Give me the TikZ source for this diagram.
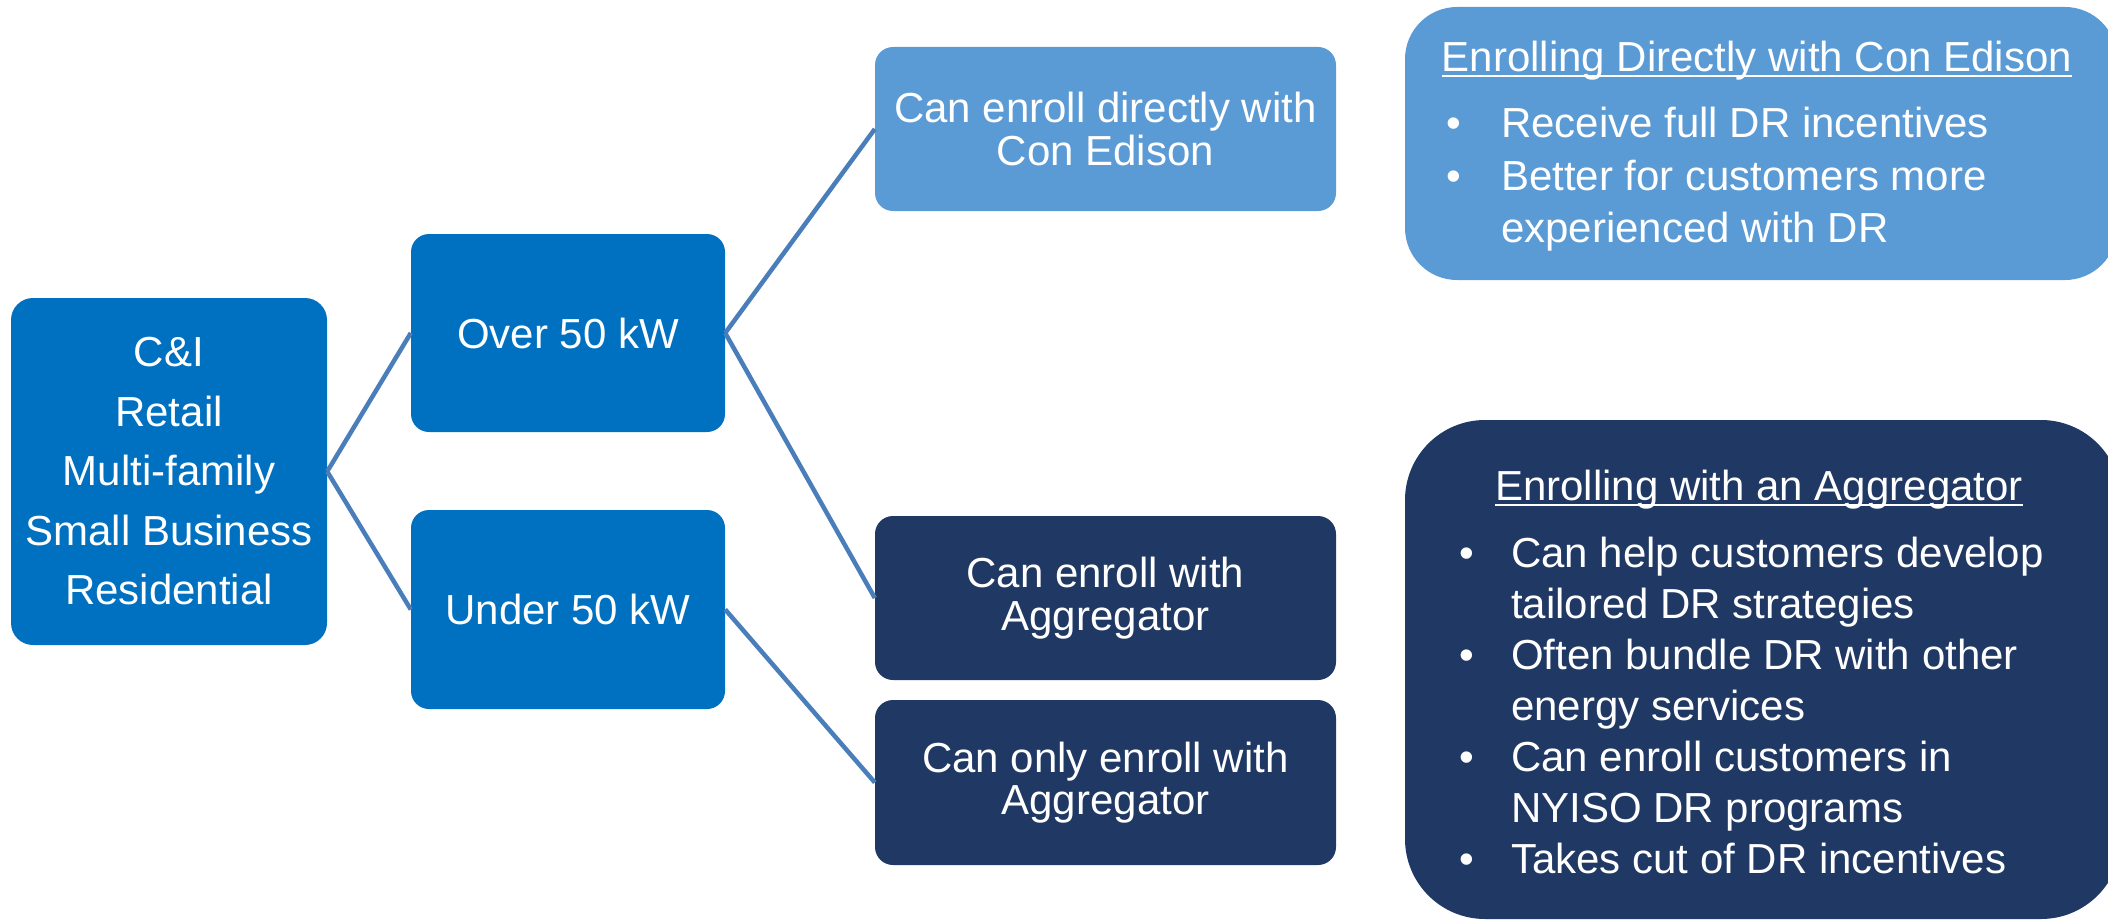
\documentclass[tikz,border=0pt]{standalone}
\usepackage{fontspec}
\setmainfont{Liberation Sans}
\definecolor{midblue}{HTML}{0070C0}
\definecolor{lightblue}{HTML}{5B9BD5}
\definecolor{navy}{HTML}{203864}
\definecolor{linkblue}{HTML}{4A7EBB}
\tikzset{
  box/.style={rounded corners=18pt, inner sep=0pt, text=white, align=center},
  f42/.style={font=\fontsize{42}{42.5}\selectfont},
  txt/.style={inner sep=0pt, text=white, font=\fontsize{42}{50}\selectfont},
  link/.style={draw=linkblue, line width=4.5pt},
  uline/.style={draw=white, line width=2pt},
}
\begin{document}
\begin{tikzpicture}[x=1pt,y=-1pt]
\useasboundingbox (0,0) rectangle (2108,920);
% left column
\node[box, fill=midblue, rounded corners=22pt, minimum width=316pt, minimum height=347pt,
  font=\fontsize{42}{59.5}\selectfont] (seg) at (169,471.5)
  {C\&I\\Retail\\Multi-family\\Small Business\\Residential};
\node[box, f42, fill=midblue, minimum width=314pt, minimum height=198pt] (over) at (568,333) {Over 50 kW};
\node[box, f42, fill=midblue, minimum width=314pt, minimum height=199pt] (under) at (568,609.5) {Under 50 kW};
% middle column
\node[box, f42, fill=lightblue, minimum width=461pt, minimum height=164pt] (direct) at (1105.5,129) {Can enroll directly with\\Con Edison};
\node[box, f42, fill=navy, minimum width=461pt, minimum height=164pt] (agg) at (1105.5,598) {Can enroll with\\Aggregator};
\node[box, f42, fill=navy, minimum width=461pt, minimum height=165pt] (only) at (1105.5,782.5) {Can only enroll with\\Aggregator};
% connectors
\draw[link] (seg.east) -- (over.west);
\draw[link] (seg.east) -- (under.west);
\draw[link] (over.east) -- (direct.west);
\draw[link] (over.east) -- (agg.west);
\draw[link] (under.east) -- (only.west);
% right panels
\node[box, fill=lightblue, rounded corners=52pt, minimum width=712pt, minimum height=273pt] (panelA) at (1761,143.5) {};
\node[box, fill=navy, rounded corners=80pt, minimum width=716pt, minimum height=499pt] (panelB) at (1763,669.5) {};
% panel A text
\node[txt, anchor=base] (hA) at (1757,72) {Enrolling Directly with Con Edison};
\draw[uline] ([yshift=-4.5pt]hA.base west) -- ([yshift=-4.5pt]hA.base east);
\node[txt, anchor=base west] (bA1) at (1446,138) {•};
\node[txt, anchor=base west] (tA1) at (1501,138) {Receive full DR incentives};
\node[txt, anchor=base west] (bA2) at (1446,190) {•};
\node[txt, anchor=base west] (tA2) at (1501,190) {Better for customers more};
\node[txt, anchor=base west] (tA3) at (1501,242) {experienced with DR};
% panel B text
\node[txt, anchor=base] (hB) at (1759,500) {Enrolling with an Aggregator};
\draw[uline] ([yshift=-4.5pt]hB.base west) -- ([yshift=-4.5pt]hB.base east);
\node[txt, anchor=base west] (bB1) at (1459,567) {•};
\node[txt, anchor=base west] (tB1) at (1511,567) {Can help customers develop};
\node[txt, anchor=base west] (tB2) at (1511,618) {tailored DR strategies};
\node[txt, anchor=base west] (bB2) at (1459,669) {•};
\node[txt, anchor=base west] (tB3) at (1511,669) {Often bundle DR with other};
\node[txt, anchor=base west] (tB4) at (1511,720) {energy services};
\node[txt, anchor=base west] (bB3) at (1459,771) {•};
\node[txt, anchor=base west] (tB5) at (1511,771) {Can enroll customers in};
\node[txt, anchor=base west] (tB6) at (1511,822) {NYISO DR programs};
\node[txt, anchor=base west] (bB4) at (1459,873) {•};
\node[txt, anchor=base west] (tB7) at (1511,873) {Takes cut of DR incentives};
\end{tikzpicture}
\end{document}
